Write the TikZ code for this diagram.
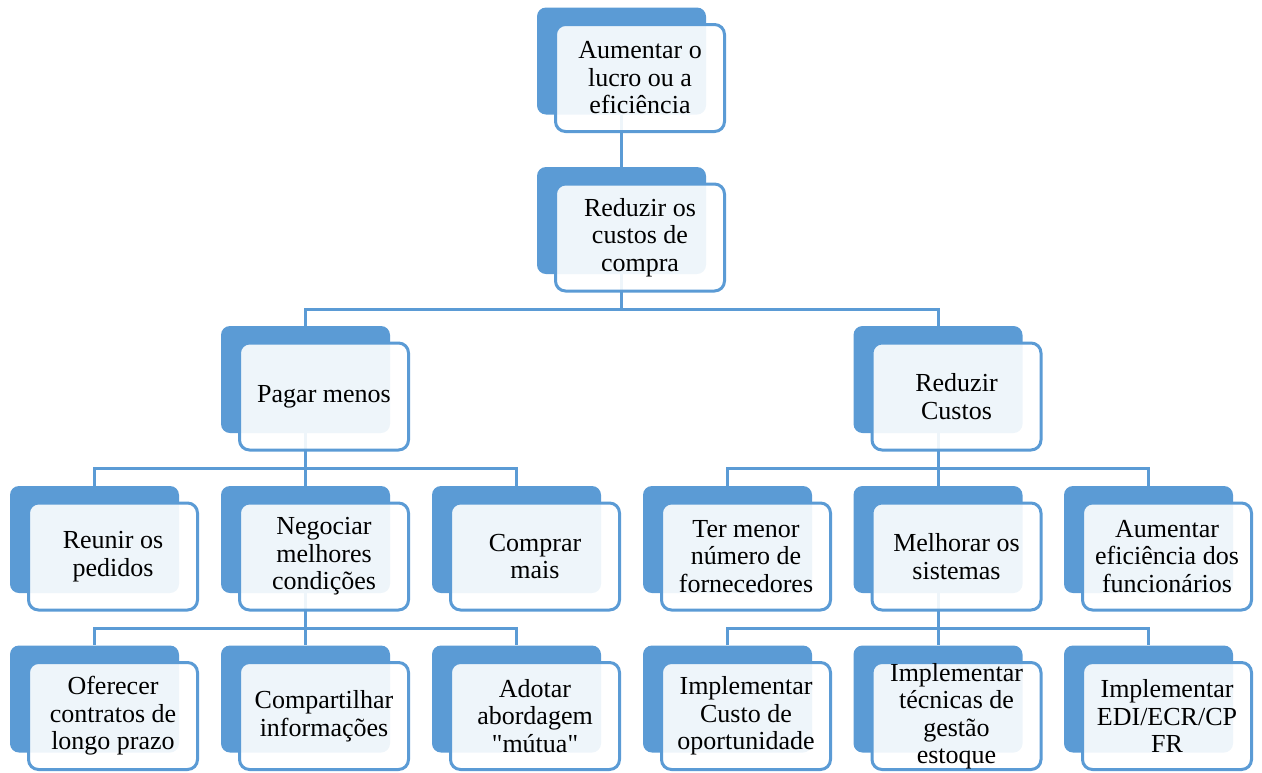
\documentclass[tikz,border=0pt]{standalone}
\usepackage{fontspec}
\setmainfont{Liberation Serif}[Ligatures=TeXOff]
\usepackage{tikz}
\usetikzlibrary{positioning,calc,backgrounds}
\definecolor{smartblue}{RGB}{91,155,213}

\begin{document}
\begin{tikzpicture}[
		x=0.5pt, y=-0.5pt,
		every node/.style={
			align=center,
			font=\fontsize{13}{13.75}\selectfont
		},
		back/.style={
			fill=smartblue,
			rounded corners=4.5pt,
			minimum width=84.5pt,
			minimum height=53.5pt,
			inner sep=0pt
		},
		front/.style={
			draw=smartblue,
			line width=1.5pt,
			fill=white,
			fill opacity=0.9,
			text opacity=1,
			rounded corners=5pt,
			minimum width=84.5pt,
			minimum height=53.5pt,
			inner sep=0pt
		},
		conn/.style={draw=smartblue,line width=1.5pt}
		]
		
		\useasboundingbox (0,0) rectangle (1262,772);
		
		% top
		\node[back] (lucrobg) at (621.5,61) {};
		\node[front] (lucro) at ([shift={(18.5,17)}]lucrobg.center)
		{Aumentar o\\lucro ou a\\eficiência};
		
		\node[back] (custosbg) at (621.5,220.5) {};
		\node[front] (custos) at ([shift={(18.5,17)}]custosbg.center)
		{Reduzir os\\custos de\\compra};
		
		% second level
		\node[back] (pagarbg) at (305.5,379.5) {};
		\node[front] (pagar) at ([shift={(18.5,17)}]pagarbg.center)
		{Pagar menos};
		
		\node[back] (reduzirbg) at (938,379.5) {};
		\node[front] (reduzir) at ([shift={(18.5,17)}]reduzirbg.center)
		{Reduzir\\Custos};
		
		% third level
		\node[back] (reunirbg) at (94.5,539.5) {};
		\node[front] (reunir) at ([shift={(18.5,17)}]reunirbg.center)
		{Reunir os\\pedidos};
		
		\node[back] (negociarbg) at (305.5,539.5) {};
		\node[front] (negociar) at ([shift={(18.5,17)}]negociarbg.center)
		{Negociar\\melhores\\condições};
		
		\node[back] (comprarbg) at (516.5,539.5) {};
		\node[front] (comprar) at ([shift={(18.5,17)}]comprarbg.center)
		{Comprar\\mais};
		
		\node[back] (fornecbg) at (727.5,539.5) {};
		\node[front] (fornec) at ([shift={(18.5,17)}]fornecbg.center)
		{Ter menor\\número de\\fornecedores};
		
		\node[back] (sistemasbg) at (938,539.5) {};
		\node[front] (sistemas) at ([shift={(18.5,17)}]sistemasbg.center)
		{Melhorar os\\sistemas};
		
		\node[back] (funcionbg) at (1148.5,539.5) {};
		\node[front] (funcion) at ([shift={(18.5,17)}]funcionbg.center)
		{Aumentar\\eficiência dos\\funcionários};
		
		% bottom level
		\node[back] (contratosbg) at (94.5,699) {};
		\node[front] (contratos) at ([shift={(18.5,17)}]contratosbg.center)
		{Oferecer\\contratos de\\longo prazo};
		
		\node[back] (compartbg) at (305.5,699) {};
		\node[front] (compart) at ([shift={(18.5,17)}]compartbg.center)
		{Compartilhar\\informações};
		
		\node[back] (mutuabg) at (516.5,699) {};
		\node[front] (mutua) at ([shift={(18.5,17)}]mutuabg.center)
		{Adotar\\abordagem\\"mútua"};
		
		\node[back] (oportbg) at (727.5,699) {};
		\node[front] (oport) at ([shift={(18.5,17)}]oportbg.center)
		{Implementar\\Custo de\\oportunidade};
		
		\node[back] (estoquebg) at (938,699) {};
		\node[front] (estoque) at ([shift={(18.5,17)}]estoquebg.center)
		{Implementar\\técnicas de\\gestão\\estoque};
		
		\node[back] (edibg) at (1148.5,699) {};
		\node[front] (edi) at ([shift={(18.5,17)}]edibg.center)
		{Implementar\\EDI/ECR/CP\\FR};
		
		% connectors
		\begin{scope}[on background layer]
			\coordinate (bar1) at ($(custos.south)!.5!(pagarbg.north)$);
			\coordinate (bar2) at ($(pagar.south)!.5!(negociarbg.north)$);
			\coordinate (bar3) at ($(reduzir.south)!.5!(sistemasbg.north)$);
			\coordinate (bar4) at ($(negociar.south)!.5!(compartbg.north)$);
			\coordinate (bar5) at ($(sistemas.south)!.5!(estoquebg.north)$);
			
			\draw[conn] (lucrobg.south)--(custosbg.north);
			\draw[conn] (custosbg.south)--(custosbg.south |- bar1);
			\draw[conn] (pagarbg.north) |- (bar1) -| (reduzirbg.north);
			
			\draw[conn] (pagarbg.south)--(negociarbg.north);
			\draw[conn] (reunirbg.north) |- (bar2) -| (comprarbg.north);
			\draw[conn] (reduzirbg.south)--(sistemasbg.north);
			\draw[conn] (fornecbg.north) |- (bar3) -| (funcionbg.north);
			
			\draw[conn] (negociarbg.south)--(compartbg.north);
			\draw[conn] (contratosbg.north) |- (bar4) -| (mutuabg.north);
			\draw[conn] (sistemasbg.south)--(estoquebg.north);
			\draw[conn] (oportbg.north) |- (bar5) -| (edibg.north);
		\end{scope}
		
	\end{tikzpicture}
\end{document}
